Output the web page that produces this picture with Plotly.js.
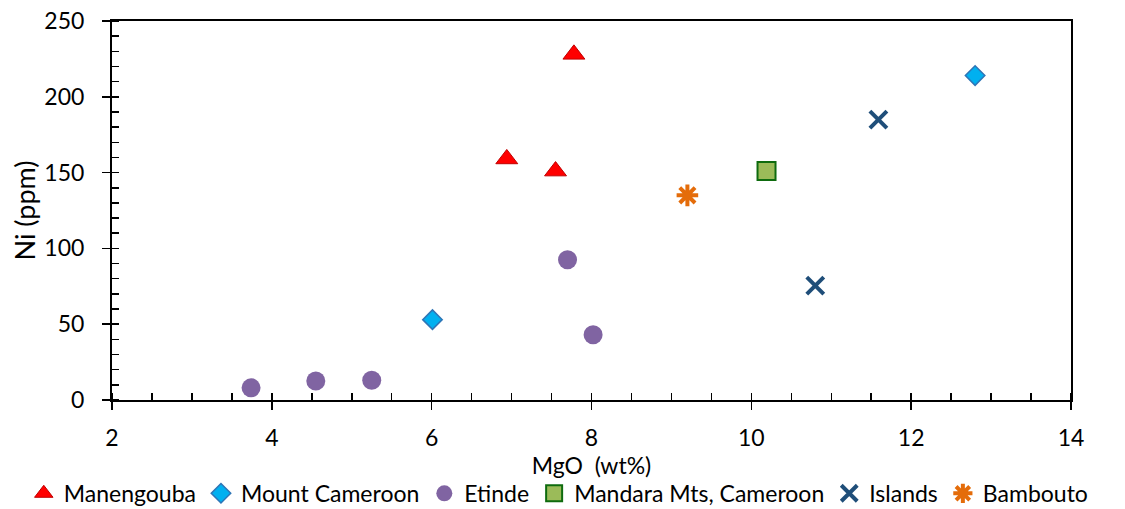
<!DOCTYPE html>
<html>
<head>
<meta charset="utf-8">
<script src="https://cdn.plot.ly/plotly-3.0.1.min.js"></script>
<style>html,body{margin:0;padding:0;background:#fff;}#chart{width:1125px;height:509px;}</style>
</head>
<body>
<div id="chart"></div>
<script>
// Data
const manengoubaMgO = [7.78, 6.94, 7.55];
const manengoubaNi  = [228, 159, 151];
const mtCameroonMgO = [12.80, 6.01];
const mtCameroonNi  = [214, 53];
const etindeMgO = [3.74, 4.55, 5.25, 7.70, 8.02];
const etindeNi  = [8, 12.5, 13, 92.5, 43];
const mandaraMgO = [10.19];
const mandaraNi  = [151];
const islandsMgO = [11.59, 10.80];
const islandsNi  = [185, 75.5];
const bamboutoMgO = [9.20];
const bamboutoNi  = [135];
const seriesNames = ["Manengouba", "Mount Cameroon", "Etinde", "Mandara Mts, Cameroon", "Islands", "Bambouto"];

const FONT = "Lato, 'Open Sans', sans-serif";

const traces = [
  {x: manengoubaMgO, y: manengoubaNi, name: seriesNames[0], mode: "markers", type: "scatter",
   marker: {symbol: "triangle-up", size: 19, color: "#FF0000", line: {color: "#C00000", width: 1}}},
  {x: mtCameroonMgO, y: mtCameroonNi, name: seriesNames[1], mode: "markers", type: "scatter",
   marker: {symbol: "diamond", size: 15, color: "#00B0F0", line: {color: "#2E75B6", width: 1.5}}},
  {x: etindeMgO, y: etindeNi, name: seriesNames[2], mode: "markers", type: "scatter",
   marker: {symbol: "circle", size: 19, color: "#8064A2", line: {color: "#8064A2", width: 0}}},
  {x: mandaraMgO, y: mandaraNi, name: seriesNames[3], mode: "markers", type: "scatter",
   marker: {symbol: "square", size: 18, color: "#9BBB59", line: {color: "#0E6B0E", width: 2}}},
  {x: islandsMgO, y: islandsNi, name: seriesNames[4], mode: "markers", type: "scatter",
   marker: {symbol: "x-thin-open", size: 17, color: "#1F4E79", line: {color: "#1F4E79", width: 4}}},
  {x: bamboutoMgO, y: bamboutoNi, name: seriesNames[5], mode: "markers", type: "scatter",
   marker: {symbol: "asterisk-open", size: 18, color: "#E46C0A", line: {color: "#E46C0A", width: 4}}}
];

const layout = {
  width: 1125, height: 509,
  margin: {l: 112, r: 54, t: 21, b: 109, autoexpand: false},
  paper_bgcolor: "#fff", plot_bgcolor: "#fff",
  font: {family: FONT, color: "#000", size: 23},
  showlegend: true,
  legend: {orientation: "h", xref: "paper", yref: "paper", x: -0.092, xanchor: "left",
           y: -0.303, yanchor: "bottom", font: {size: 23, family: FONT, color: "#000"},
           itemwidth: 30, tracegroupgap: 0, bgcolor: "rgba(0,0,0,0)"},
  xaxis: {
    range: [2, 14], tick0: 2, dtick: 2, showgrid: false, zeroline: false,
    showline: true, linecolor: "#000", linewidth: 2, mirror: true,
    ticks: "outside", ticklen: 8, tickwidth: 1.5, tickcolor: "#000",
    minor: {dtick: 0.5, ticks: "inside", ticklen: 7, tickwidth: 1.5, tickcolor: "#000", showgrid: false},
    tickfont: {size: 23, family: FONT}, ticklabelstandoff: 8,
    title: {text: "MgO  (wt%)", font: {size: 23, family: FONT}, standoff: 1}
  },
  yaxis: {
    range: [0, 250], tick0: 0, dtick: 50, showgrid: false, zeroline: false,
    showline: true, linecolor: "#000", linewidth: 2, mirror: true,
    ticks: "outside", ticklen: 8, tickwidth: 1.5, tickcolor: "#000",
    minor: {dtick: 10, ticks: "inside", ticklen: 7, tickwidth: 1.5, tickcolor: "#000", showgrid: false},
    tickfont: {size: 23, family: FONT}, ticklabelstandoff: 13,
    title: {text: "Ni (ppm)", font: {size: 27, family: FONT}, standoff: 1}
  }
};

Plotly.newPlot("chart", traces, layout, {displayModeBar: false, staticPlot: true});
</script>
</body>
</html>
